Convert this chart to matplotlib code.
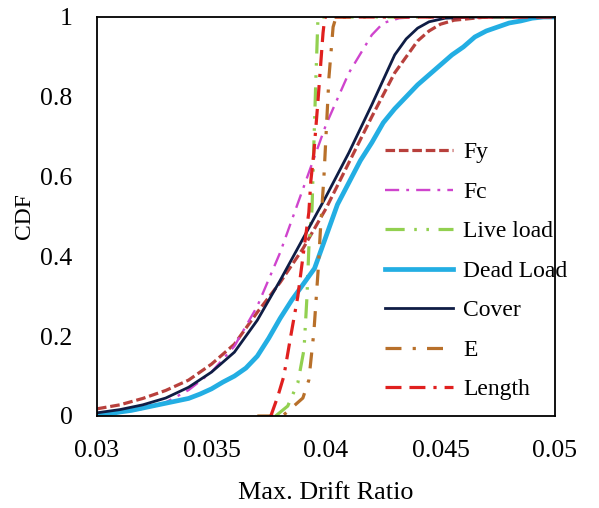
import matplotlib
matplotlib.use("Agg")
import matplotlib.pyplot as plt

plt.rcParams['font.family'] = ['Liberation Serif', 'DejaVu Serif']

# Empirical CDFs of the maximum drift ratio for each varied parameter
fy_x = [0.0300, 0.0310, 0.0320, 0.0330, 0.0340, 0.0350, 0.0360, 0.0370, 0.0380, 0.0390,
        0.0400, 0.0410, 0.0420, 0.0430, 0.0440, 0.0445, 0.0450, 0.0456, 0.0470, 0.0500]
fy_y = [0.018, 0.028, 0.044, 0.064, 0.090, 0.130, 0.180, 0.260, 0.335, 0.420,
        0.520, 0.635, 0.750, 0.860, 0.940, 0.965, 0.982, 0.992, 1.0, 1.0]

fc_x = [0.0300, 0.0310, 0.0320, 0.0330, 0.0340, 0.0350, 0.0360, 0.0370, 0.0380, 0.0390,
        0.0400, 0.0410, 0.0420, 0.0425, 0.0432, 0.0440, 0.0500]
fc_y = [0.003, 0.008, 0.018, 0.034, 0.065, 0.110, 0.175, 0.275, 0.410, 0.570,
        0.730, 0.860, 0.955, 0.985, 0.997, 1.0, 1.0]

live_x = [0.0378, 0.03833, 0.03877, 0.03904, 0.03917, 0.03925, 0.03939, 0.03947,
          0.03956, 0.03965, 0.0500]
live_y = [0.0, 0.025, 0.083, 0.167, 0.30, 0.42, 0.52, 0.68, 0.85, 1.0, 1.0]

dead_x = [0.0300, 0.0305, 0.0310, 0.0315, 0.0320, 0.0325, 0.0330, 0.0335, 0.0340, 0.0345,
          0.0350, 0.0355, 0.0360, 0.0365, 0.0370, 0.0375, 0.0380, 0.0385, 0.0390, 0.0395,
          0.0400, 0.0405, 0.0410, 0.0415, 0.0420, 0.0425, 0.0430, 0.0435, 0.0440, 0.0445,
          0.0450, 0.0455, 0.0460, 0.0465, 0.0470, 0.0475, 0.0480, 0.0485, 0.0490, 0.0495,
          0.0500]
dead_y = [0.0, 0.005, 0.010, 0.014, 0.020, 0.026, 0.032, 0.038, 0.044, 0.055,
          0.068, 0.085, 0.100, 0.120, 0.150, 0.195, 0.245, 0.290, 0.330, 0.370,
          0.450, 0.530, 0.585, 0.640, 0.685, 0.735, 0.770, 0.800, 0.830, 0.855,
          0.880, 0.905, 0.925, 0.950, 0.965, 0.975, 0.985, 0.990, 0.997, 1.0,
          1.0]

cover_x = [0.0300, 0.0310, 0.0320, 0.0330, 0.0340, 0.0350, 0.0360, 0.0370, 0.0380, 0.0390,
           0.0400, 0.0410, 0.0420, 0.0430, 0.0435, 0.0440, 0.0445, 0.0452, 0.0465, 0.0500]
cover_y = [0.008, 0.016, 0.028, 0.045, 0.072, 0.110, 0.160, 0.240, 0.340, 0.445,
           0.550, 0.660, 0.780, 0.905, 0.945, 0.972, 0.988, 0.997, 1.0, 1.0]

e_x = [0.0370, 0.0381, 0.03899, 0.03925, 0.03947, 0.03965, 0.03975, 0.03991, 0.04013,
       0.04031, 0.04044, 0.0410]
e_y = [0.0, 0.0, 0.045, 0.09, 0.21, 0.36, 0.46, 0.60, 0.85, 0.975, 1.0, 1.0]

len_x = [0.03759, 0.0379, 0.03816, 0.03846, 0.03877, 0.03904, 0.03925, 0.03934,
         0.03947, 0.03965, 0.03987, 0.03995, 0.0500]
len_y = [0.0, 0.05, 0.10, 0.20, 0.30, 0.42, 0.51, 0.59, 0.66, 0.79, 0.96, 1.0, 1.0]

x_ticks = [0.03, 0.035, 0.04, 0.045, 0.05]
x_tick_labels = ["0.03", "0.035", "0.04", "0.045", "0.05"]
y_ticks = [0, 0.2, 0.4, 0.6, 0.8, 1]
y_tick_labels = ["0", "0.2", "0.4", "0.6", "0.8", "1"]

fig = plt.figure(figsize=(5.99, 5.08), dpi=100)
ax = fig.add_axes([97 / 599, 1 - 416 / 508, 458 / 599, 399 / 508])

ax.plot(fy_x, fy_y, color='#B8403C', lw=2.3, linestyle=(0, (3, 1.2)), label='Fy')
ax.plot(fc_x, fc_y, color='#CF44CD', lw=1.7, linestyle=(0, (6, 3, 1.2, 3)), label='Fc')
ax.plot(live_x, live_y, color='#92D050', lw=2.3,
        linestyle=(0, (6, 3, 0.8, 3, 0.8, 3)), label='Live load')
ax.plot(dead_x, dead_y, color='#23AEE3', lw=3.4, label='Dead Load')
ax.plot(cover_x, cover_y, color='#0F1D45', lw=2.0, label='Cover')
ax.plot(e_x, e_y, color='#B8702A', lw=2.3, linestyle=(0, (5, 3.5, 1, 3.5)), label='E')
ax.plot(len_x, len_y, color='#E0201F', lw=2.3,
        linestyle=(0, (5, 2.5, 5, 2.5, 1, 2.5)), label='Length')

ax.set_xlim(0.03, 0.05)
ax.set_ylim(0, 1)
ax.set_xticks(x_ticks)
ax.set_xticklabels(x_tick_labels)
ax.set_yticks(y_ticks)
ax.set_yticklabels(y_tick_labels)
ax.tick_params(axis='both', length=0, labelsize=18.5)
ax.tick_params(axis='y', pad=17.5)
ax.tick_params(axis='x', pad=17)
for s in ax.spines.values():
    s.set_linewidth(1.3)
    s.set_color('black')

ax.set_xlabel('Max. Drift Ratio', fontsize=18.8, labelpad=15)
ax.set_ylabel('CDF', fontsize=17, labelpad=4)

ax.legend(loc='upper left', bbox_to_anchor=(0.629, 0.687), frameon=False,
          fontsize=17, handlelength=2.88, handletextpad=0.42, labelspacing=0.76,
          borderpad=0, borderaxespad=0)

fig.savefig('out.png', dpi=100)
